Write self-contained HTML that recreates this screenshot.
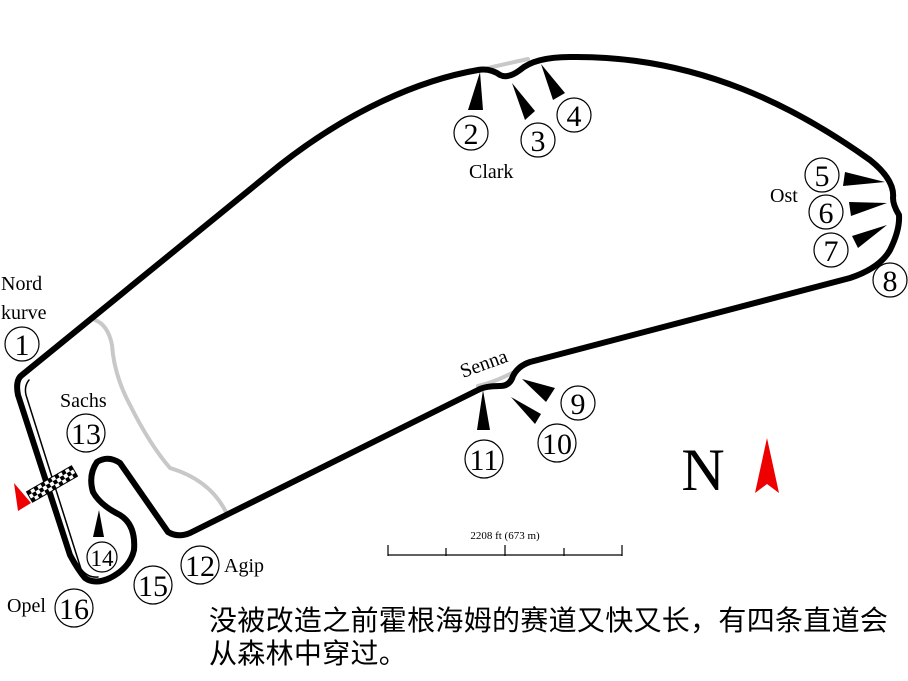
<!DOCTYPE html>
<html><head><meta charset="utf-8"><style>
body{margin:0;background:#fff;width:908px;height:681px;overflow:hidden}
svg{display:block}
.t{font-family:"Liberation Serif",serif;fill:#000}
.n{font-family:"Liberation Serif",serif;font-size:30px;text-anchor:middle;fill:#000}
.c{fill:none;stroke:#000;stroke-width:1.2}
.zh{position:absolute;left:209px;top:604px;font-family:"Liberation Sans","Noto Sans CJK SC",sans-serif;font-size:28px;line-height:33px;color:#000;width:699px;letter-spacing:0.3px}
</style></head><body>
<svg width="908" height="681" viewBox="0 0 908 681">
<g fill="none" stroke-linejoin="round" stroke-linecap="round">
<path d="M95,320 Q108,325 112,345 Q114,375 130,405 Q150,445 170,468 Q210,480 226,512" stroke="#c8c8c8" stroke-width="4"/>
<path d="M484,69 Q505,64 528,59" stroke="#c8c8c8" stroke-width="4"/>
<path d="M478,386 Q495,382 512,373" stroke="#c8c8c8" stroke-width="4"/>
<path d="M22,375 L280,165 C350,110 420,80 478,70 Q490,68 500,75 Q508,79 520,70 Q535,57 570,57 C700,55 800,110 870,160 Q895,180 893,198 Q893,205 899,215 Q900,230 890,250 Q880,268 850,278 L530,362 Q518,366 513,376 Q510,386 500,386 Q485,386 478,390 L190,533 Q178,538 168,532 L120,463 Q108,455 97,462 Q88,475 93,492 Q100,505 120,515 Q136,525 134,550 Q130,568 110,578 Q95,585 85,578 Q78,570 70,555 L18,395 Q15,380 22,375 Z" stroke="#000" stroke-width="6"/>
<path d="M29,380 Q24,386 26,395 L81,569 Q88,578 98,577" stroke="#000" stroke-width="1.5"/>
</g>
<g transform="translate(52,484) rotate(-30)">
<rect x="-26" y="-6" width="52" height="12" fill="#fff" stroke="#000" stroke-width="1"/>
<g fill="#000">
<rect x="-26" y="-6" width="4" height="4"/><rect x="-18" y="-6" width="4" height="4"/><rect x="-10" y="-6" width="4" height="4"/><rect x="-2" y="-6" width="4" height="4"/><rect x="6" y="-6" width="4" height="4"/><rect x="14" y="-6" width="4" height="4"/><rect x="22" y="-6" width="4" height="4"/>
<rect x="-22" y="-2" width="4" height="4"/><rect x="-14" y="-2" width="4" height="4"/><rect x="-6" y="-2" width="4" height="4"/><rect x="2" y="-2" width="4" height="4"/><rect x="10" y="-2" width="4" height="4"/><rect x="18" y="-2" width="4" height="4"/>
<rect x="-26" y="2" width="4" height="4"/><rect x="-18" y="2" width="4" height="4"/><rect x="-10" y="2" width="4" height="4"/><rect x="-2" y="2" width="4" height="4"/><rect x="6" y="2" width="4" height="4"/><rect x="14" y="2" width="4" height="4"/><rect x="22" y="2" width="4" height="4"/>
</g></g>
<polygon points="14,483 18,511 31,503" fill="#e00"/>
<polygon points="767,438 755,493 767,484 779,493" fill="#e00"/>
<text x="703" y="490" class="t" font-size="60" text-anchor="middle">N</text>
<g fill="#000">
<polygon points="480,72 468,110 483,110"/>
<polygon points="512,83 525,120 535,111"/>
<polygon points="541,64 553,100 565,93"/>
<polygon points="885,182 845,172 843,186"/>
<polygon points="887,203 849,202 851,216"/>
<polygon points="887,225 852,236 858,248"/>
<polygon points="522,379 555,388 546,402"/>
<polygon points="511,397 535,424 541,414"/>
<polygon points="483,390 477,430 490,430"/>
<polygon points="99,510 93,537 104,537"/>
</g>
<g class="c">
<circle cx="22" cy="344" r="17"/><circle cx="471" cy="133" r="17"/><circle cx="538" cy="140" r="17"/><circle cx="574" cy="115" r="17"/>
<circle cx="822" cy="175" r="17"/><circle cx="826" cy="212" r="17"/><circle cx="831" cy="250" r="17"/><circle cx="890" cy="280" r="17"/>
<circle cx="578" cy="403" r="17"/><circle cx="557" cy="443" r="19"/><circle cx="484" cy="459" r="19"/><circle cx="200" cy="565" r="19"/>
<circle cx="86" cy="433" r="19"/><circle cx="102" cy="557" r="15"/><circle cx="153" cy="585" r="19"/><circle cx="74" cy="608" r="19"/>
</g>
<g class="n">
<text x="22" y="355">1</text><text x="471" y="144">2</text><text x="538" y="151">3</text><text x="574" y="126">4</text>
<text x="822" y="186">5</text><text x="826" y="223">6</text><text x="831" y="261">7</text><text x="890" y="291">8</text>
<text x="578" y="414">9</text><text x="557" y="454">10</text><text x="484" y="470">11</text><text x="200" y="576">12</text>
<text x="86" y="444">13</text><text x="102" y="566" font-size="23">14</text><text x="153" y="596">15</text><text x="74" y="619">16</text>
</g>
<g class="t" font-size="20">
<text x="1" y="290">Nord</text><text x="1" y="319">kurve</text>
<text x="60" y="407">Sachs</text>
<text x="469" y="178">Clark</text>
<text x="770" y="202">Ost</text>
<text x="224" y="572">Agip</text>
<text x="7" y="612">Opel</text>
<text x="0" y="0" transform="translate(463,378) rotate(-20)">Senna</text>
</g>
<g stroke="#000" stroke-width="1.2">
<line x1="388" y1="555" x2="622" y2="555"/>
<line x1="388" y1="545" x2="388" y2="556"/><line x1="446" y1="548" x2="446" y2="556"/><line x1="505" y1="545" x2="505" y2="556"/><line x1="564" y1="548" x2="564" y2="556"/><line x1="622" y1="545" x2="622" y2="556"/>
</g>
<text x="505" y="539" class="t" font-size="11" text-anchor="middle">2208 ft (673 m)</text>
</svg>
<div class="zh">没被改造之前霍根海姆的赛道又快又长，有四条直道会从森林中穿过。</div>
</body></html>
